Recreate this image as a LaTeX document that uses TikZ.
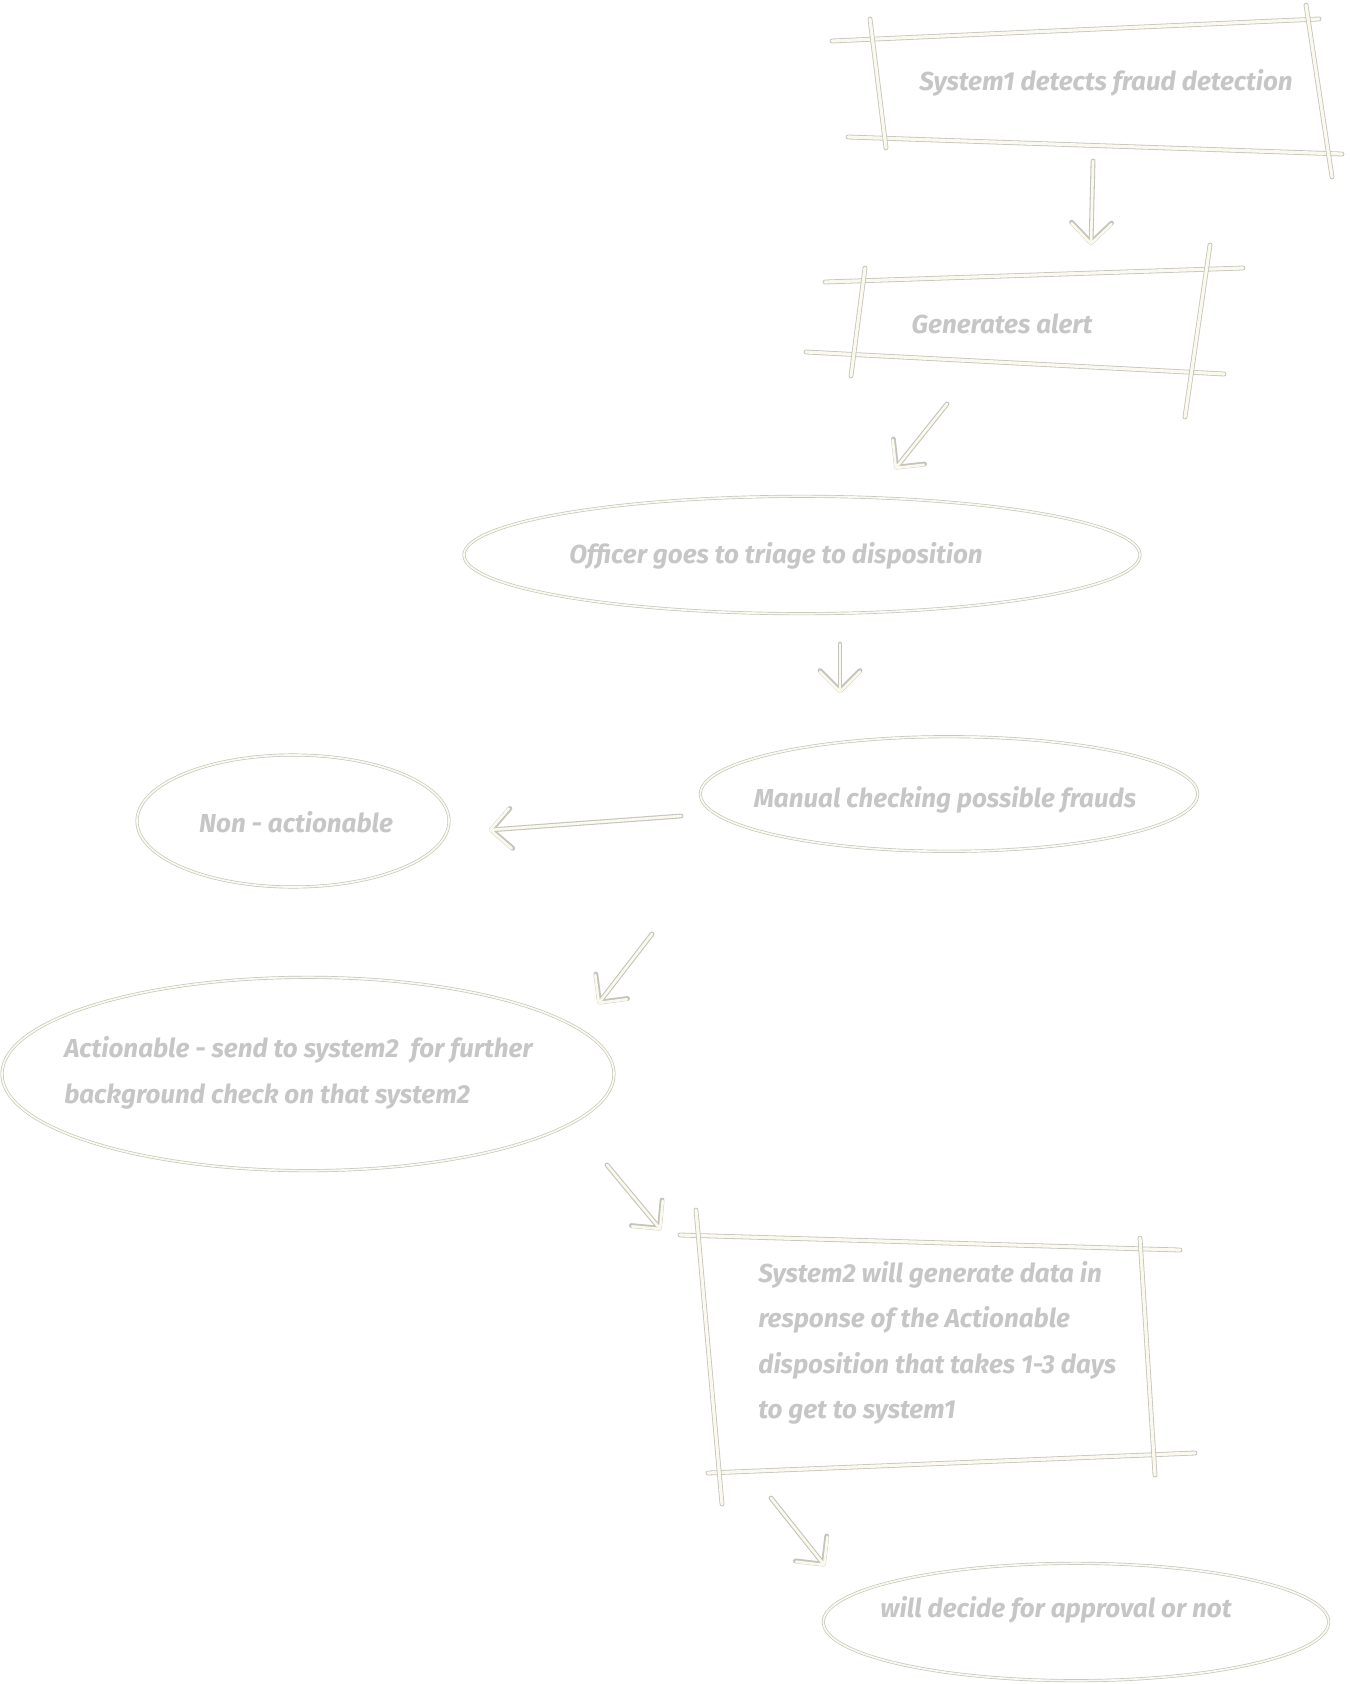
\documentclass[tikz,border=0pt]{standalone}
\usepackage{fontspec}
\setmainfont{Fira Sans}
\usetikzlibrary{shapes.geometric,arrows.meta}
\definecolor{edge}{HTML}{C4C4BE}
\definecolor{cream}{HTML}{FBF9EC}
\definecolor{txt}{HTML}{C6C6C6}
\tikzset{
  sk/.style={draw=edge, line width=0.6pt, double=cream, double distance=2.4pt, line cap=round},
  ell/.style={ellipse, draw=edge, line width=0.5pt, double=cream, double distance=1.3pt, inner sep=0pt},
  lbl/.style={text=txt, font=\fontsize{19.5}{34}\selectfont\bfseries\itshape, inner sep=0pt},
  arrout/.style={draw=edge, line width=3.6pt, line cap=round, line join=round, -{Straight Barb[length=15pt 0, width=30pt 0, round]}},
  arrin/.style={draw=cream, line width=2pt, line cap=round, line join=round, -{Straight Barb[length=15pt 0, width=30pt 0, round]}}
}
\newcommand{\skarrow}[2]{%
  \draw[arrout] (#1) -- (#2);
  \draw[arrin] (#1) -- (#2);
}
\begin{document}
\begin{tikzpicture}[x=0.75pt,y=-0.75pt]
\fill[white] (0,0) rectangle (1349,1684);
\useasboundingbox (0,0) rectangle (1349,1684);

% ---- Box 1
\draw[sk] (832,41) -- (1319,19);
\draw[sk] (848,137) -- (1342,154);
\draw[sk] (870,19) -- (886,148);
\draw[sk] (1306,5) -- (1332,177);
\node[lbl] (t1) at (1106,83) {System1 detects fraud detection};

% ---- Box 2
\draw[sk] (825,282) -- (1243,268);
\draw[sk] (806,352) -- (1224,374);
\draw[sk] (865,268) -- (851,376);
\draw[sk] (1210,245) -- (1185,417);
\node[lbl] (t2) at (1002,324) {Generates alert};

% ---- Ellipses
\node[ell, minimum width=507pt, minimum height=88pt] (e3) at (802,555) {};
\node[lbl] (t3) at (776,556) {Officer goes to triage to disposition};

\node[ell, minimum width=373pt, minimum height=86pt] (e4) at (949,794) {};
\node[lbl] (t4) at (945,800) {Manual checking possible frauds};

\node[ell, minimum width=234pt, minimum height=99pt] (e5) at (293,821) {};
\node[lbl] (t5) at (296,822) {Non - actionable};

\node[ell, minimum width=459pt, minimum height=145pt] (e6) at (308,1074) {};
\node[lbl, anchor=west, align=left] (t6) at (64,1073) {Actionable - send to system2\ \ for further\\background check on that system2};

% ---- Box 7
\draw[sk] (680,1235) -- (1180,1250);
\draw[sk] (708,1473) -- (1195,1453);
\draw[sk] (696,1210) -- (722,1504);
\draw[sk] (1140,1238) -- (1155,1475);
\node[lbl, anchor=west, align=left] (t7) at (758,1343) {System2 will generate data in\\response of the Actionable\\disposition that takes 1-3 days\\to get to system1};

\node[ell, minimum width=379pt, minimum height=88pt] (e8) at (1076,1622) {};
\node[lbl] (t8) at (1056,1610) {will decide for approval or not};

% ---- Arrows
\coordinate (a1s) at (1093,161); \coordinate (a1e) at (1091,245);
\coordinate (a2s) at (947,404);  \coordinate (a2e) at (895,469);
\coordinate (a3s) at (840,644);  \coordinate (a3e) at (840,693);
\coordinate (a4s) at (681,816);  \coordinate (a4e) at (489,830);
\coordinate (a5s) at (652,934);  \coordinate (a5e) at (598,1004);
\coordinate (a6s) at (607,1165); \coordinate (a6e) at (661,1230);
\coordinate (a7s) at (771,1498); \coordinate (a7e) at (825,1566);
\skarrow{a1s}{a1e}
\skarrow{a2s}{a2e}
\skarrow{a3s}{a3e}
\skarrow{a4s}{a4e}
\skarrow{a5s}{a5e}
\skarrow{a6s}{a6e}
\skarrow{a7s}{a7e}
\end{tikzpicture}
\end{document}
